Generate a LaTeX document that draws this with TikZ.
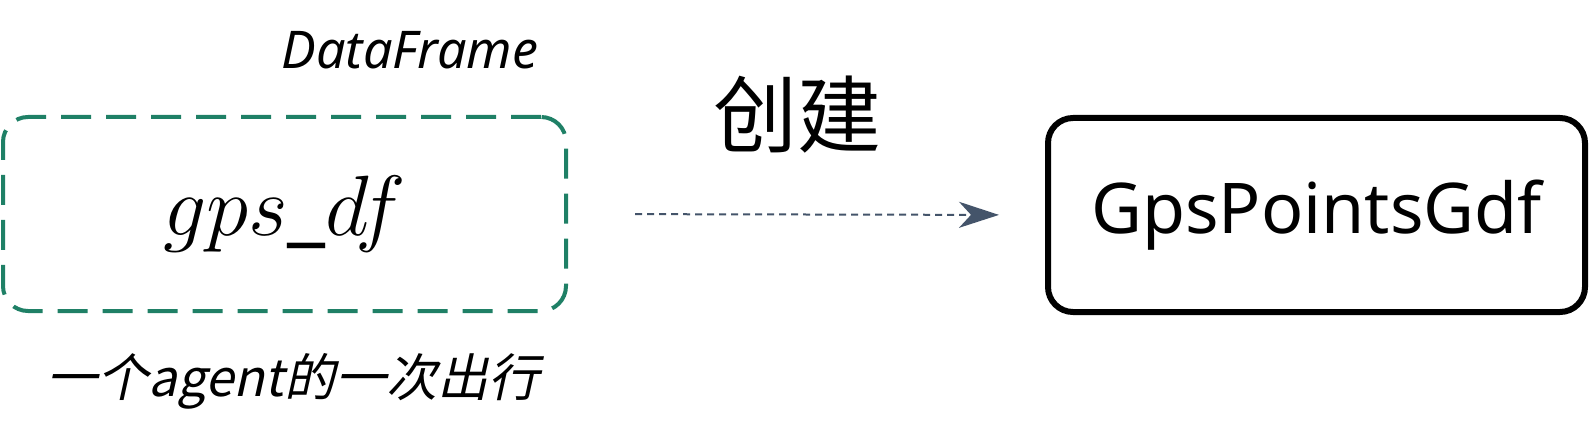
\documentclass[tikz,border=0pt]{standalone}
\usepackage{fontspec}
\setmainfont{Noto Sans}
\newfontfamily\cjk{Noto Sans CJK SC}
\newfontfamily\cjkslant{Noto Sans CJK SC}[FakeSlant=0.22]
\usetikzlibrary{arrows, arrows.meta}
\definecolor{dfgreen}{RGB}{31,128,102}
\definecolor{slate}{RGB}{68,84,106}

\begin{document}
\begin{tikzpicture}[x=0.5pt, y=-0.5pt,
  dfbox/.style={draw=dfgreen, line width=2pt, rounded corners=12.5pt,
    dash pattern=on 15pt off 7.5pt, minimum width=281.5pt, minimum height=97pt, inner sep=0pt},
  gdfbox/.style={draw=black, line width=3pt, rounded corners=12.5pt,
    minimum width=268.5pt, minimum height=97pt, inner sep=0pt},
  makes/.style={draw=slate, line width=1pt, dash pattern=on 3.5pt off 2.5pt,
    -{Stealth[length=20pt, width=13pt, inset=6pt]}}]

	\useasboundingbox (0,0) rectangle (1595,433);

	% boxes
	\node[dfbox] (df) at (284.5,214) {\fontsize{24.88}{25}\selectfont\scalebox{1.72}{$gps\_df$}};
	\node[gdfbox] (gdf) at (1316.5,215) {\fontsize{35}{35}\selectfont GpsPointsGdf};

	% labels
	\node (dftype) at (410,50) {\fontsize{26}{26}\selectfont\itshape DataFrame};
	\node (dfnote) at (293,381) {\fontsize{25.5}{25.5}\selectfont\cjkslant 一个agent的一次出行};
	\node (create) at (797,115) {\fontsize{42}{42}\selectfont\cjk 创建};

	\draw[makes, shorten <=33.5pt, shorten >=23pt] (df.east) -- (gdf.west);
\end{tikzpicture}
\end{document}
